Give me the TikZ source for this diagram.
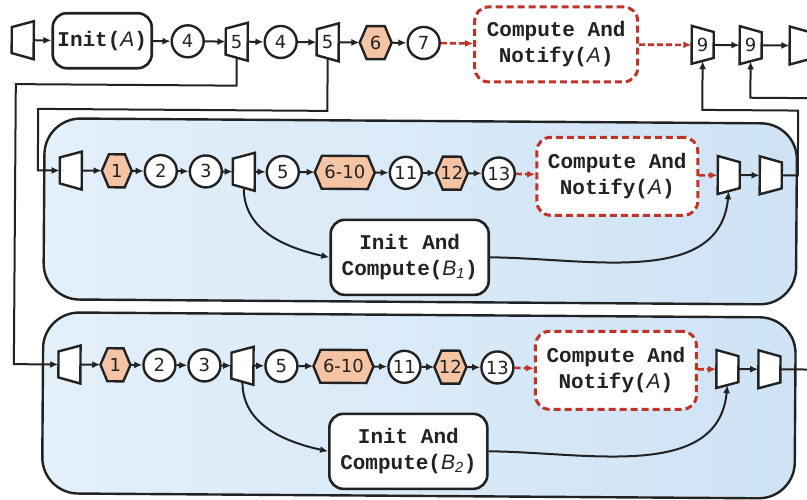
\documentclass[tikz,border=0pt]{standalone}
\usepackage{fontspec}
\setmainfont{Liberation Mono}
\newfontfamily\numfont{DejaVu Sans}
\newfontfamily\sansit{Liberation Sans}
\usetikzlibrary{arrows.meta,calc}

\definecolor{ink}{RGB}{34,34,34}
\definecolor{dashred}{RGB}{190,52,40}
\definecolor{peach}{RGB}{245,196,164}
\definecolor{blueL}{RGB}{228,240,250}
\definecolor{blueR}{RGB}{206,227,245}

% italic variable names inside the monospaced labels
\newcommand\va[1]{{\sansit\mdseries\itshape #1}}

\tikzset{
  conn/.style={line width=2pt, draw=ink, -{Latex[length=8pt,width=7pt]}},
  dconn/.style={line width=2.6pt, draw=dashred, dash pattern=on 6pt off 3pt,
                -{Latex[length=8pt,width=7pt]}},
  circ/.style={circle, draw=ink, line width=2.4pt, fill=white, minimum size=32pt,
               inner sep=0pt, text=ink, font=\numfont\fontsize{18}{18}\selectfont},
  box/.style={rounded corners=14pt, draw=ink, line width=2.6pt, fill=white,
              align=center, text=ink, font=\fontsize{21}{26}\selectfont\bfseries},
  dbox/.style={box, draw=dashred, line width=3pt, dash pattern=on 7pt off 4pt},
  shapeline/.style={draw=ink, line width=2.4pt, line join=miter, fill=white},
  anchorbox/.style={rectangle, draw=none, inner sep=0pt, text=ink,
                    font=\numfont\fontsize{18}{18}\selectfont},
  block/.style={draw=ink, line width=2.4pt, rounded corners=36pt,
                left color=blueL, right color=blueR},
}

% trapezoid, narrow side left, wide side right: name, x, y, label
\newcommand\splitter[4]{%
  \path[shapeline] (#2-11,#3-13) -- (#2+11,#3-19) -- (#2+11,#3+19) -- (#2-11,#3+13) -- cycle;
  \node[anchorbox, minimum width=22pt, minimum height=32pt] (#1) at (#2,#3) {#4};}
% trapezoid, wide side left, narrow side right: name, x, y, label
\newcommand\merger[4]{%
  \path[shapeline] (#2-11,#3-19) -- (#2+11,#3-13) -- (#2+11,#3+13) -- (#2-11,#3+19) -- cycle;
  \node[anchorbox, minimum width=22pt, minimum height=32pt] (#1) at (#2,#3) {#4};}
% stretched hexagon: name, x, y, half width, label
\newcommand\hexbox[5]{%
  \path[shapeline, fill=peach] (#2-#4,#3) -- (#2-#4+7,#3-16.5) -- (#2+#4-7,#3-16.5)
     -- (#2+#4,#3) -- (#2+#4-7,#3+16.5) -- (#2-#4+7,#3+16.5) -- cycle;
  \node[anchorbox, minimum width=2*#4pt, minimum height=33pt] (#1) at (#2,#3) {#5};}

% one replicated pipeline stage: name prefix, row y, subscript of B
\newcommand\stage[3]{%
  \draw[block] (45.5,#2-52) rectangle (798,#2+129);
  \splitter{#1in}{72}{#2}{}
  \hexbox{#1h1}{118}{#2}{15}{1}
  \node[circ] (#1c2) at (162,#2) {2};
  \node[circ] (#1c3) at (207,#2) {3};
  \splitter{#1sp}{245}{#2}{}
  \node[circ] (#1c5) at (284,#2) {5};
  \hexbox{#1h6}{346}{#2}{30}{6-10}
  \node[circ] (#1c11) at (407,#2) {11};
  \hexbox{#1h12}{453}{#2}{16}{12}
  \node[circ] (#1c13) at (500,#2) {13};
  \node[dbox, minimum width=161pt, minimum height=78pt] (#1can) at (618.5,#2+2)
       {Compute And\\Notify(\va{A})};
  \merger{#1m1}{730}{#2}{}
  \merger{#1m2}{772}{#2}{}
  \node[box, minimum width=158pt, minimum height=75pt] (#1init) at (411.5,#2+84.5)
       {Init And\\Compute(\va{B\textsubscript{#3}})};
  \draw[conn] (#1in) -- (#1h1);
  \draw[conn] (#1h1) -- (#1c2);
  \draw[conn] (#1c2) -- (#1c3);
  \draw[conn] (#1c3) -- (#1sp);
  \draw[conn] (#1sp) -- (#1c5);
  \draw[conn] (#1c5) -- (#1h6);
  \draw[conn] (#1h6) -- (#1c11);
  \draw[conn] (#1c11) -- (#1h12);
  \draw[conn] (#1h12) -- (#1c13);
  \draw[dconn] (#1c13) -- (#1can);
  \draw[dconn] (#1can) -- (#1m1);
  \draw[conn] (#1m1) -- (#1m2);
  \draw[conn] (#1sp.south) to[out=-90,in=168] (#1init.west);
  \draw[conn] (#1init.east) to[out=0,in=-95] (#1m1.south);
}

\begin{document}
\begin{tikzpicture}[x=1pt,y=-1pt]
\useasboundingbox (0,0) rectangle (807,499);
\fill[white] (0,0) rectangle (807,499);
\clip (0,0) rectangle (807,499);
\begin{scope}[rotate=-0.4]
  % main thread
  \splitter{t0}{23}{40}{}
  \node[box, minimum width=99pt, minimum height=55pt] (initA) at (102.5,40) {Init(\va{A})};
  \node[circ] (t4a) at (188,40) {4};
  \splitter{t5a}{237}{40}{5}
  \node[circ] (t4b) at (281,40) {4};
  \splitter{t5b}{328}{40}{5}
  \hexbox{t6}{376}{40}{16}{6}
  \node[circ] (t7) at (424,40) {7};
  \node[dbox, minimum width=163pt, minimum height=75pt] (tcan) at (556.5,40.5)
       {Compute And\\Notify(\va{A})};
  \merger{t9a}{703}{40}{9}
  \merger{t9b}{751}{40}{9}
  \merger{t10}{801}{40}{}

  % the two forked stages
  \stage{a}{170}{1}
  \stage{b}{364}{2}

  \draw[conn] (t0) -- (initA);
  \draw[conn] (initA) -- (t4a);
  \draw[conn] (t4a) -- (t5a);
  \draw[conn] (t5a) -- (t4b);
  \draw[conn] (t4b) -- (t5b);
  \draw[conn] (t5b) -- (t6);
  \draw[conn] (t6) -- (t7);
  \draw[dconn] (t7) -- (tcan);
  \draw[dconn] (tcan) -- (t9a);
  \draw[conn] (t9a) -- (t9b);
  \draw[conn] (t9b) -- (t10);

  % forks into the stages
  \draw[conn] (t5a.south) |- (16.4,84) |- (bin.west);
  \draw[conn] (t5b.south) |- (39,108.6) |- (ain.west);
  % joins back into the main thread
  \draw[conn] (am2.east) -| (799,105) -| (t9a.south);
  \draw[conn] (bm2.east) -| (830,92.5) -| (t9b.south);
\end{scope}
\end{tikzpicture}
\end{document}
